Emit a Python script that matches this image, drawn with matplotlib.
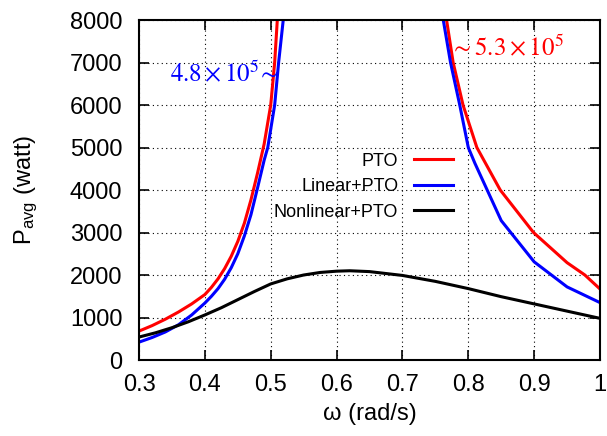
import numpy as np
import matplotlib
matplotlib.use("Agg")
import matplotlib.pyplot as plt

# omega (rad/s) and average power (watt); NaN marks the resonance gap (off scale)
w_pto = [0.30, 0.32, 0.34, 0.36, 0.38, 0.40, 0.41, 0.42, 0.43, 0.44, 0.45, 0.46, 0.47, 0.48, 0.49,
         0.50, 0.506, 0.510, 0.514,
         0.64,
         0.757, 0.767, 0.777, 0.792, 0.813, 0.8485, 0.899, 0.95, 0.977, 1.00]
p_pto = [680, 810, 960, 1130, 1320, 1540, 1710, 1910, 2150, 2440, 2790, 3220, 3770, 4400, 5080,
         6000, 7000, 8000, 9000,
         np.nan,
         9000, 8000, 7000, 6000, 5000, 4000, 3000, 2290, 2000, 1670]

w_lin = [0.30, 0.32, 0.34, 0.36, 0.38, 0.40, 0.41, 0.42, 0.43, 0.44, 0.45, 0.46, 0.47, 0.48, 0.49,
         0.4955, 0.506, 0.512, 0.519, 0.523,
         0.64,
         0.752, 0.762, 0.773, 0.787, 0.80, 0.81, 0.85, 0.90, 0.95, 1.00]
p_lin = [420, 530, 660, 830, 1060, 1340, 1500, 1680, 1900, 2170, 2500, 2920, 3420, 4050, 4700,
         5000, 6000, 7000, 8000, 9000,
         np.nan,
         9000, 8000, 7000, 6000, 5000, 4630, 3280, 2310, 1720, 1350]

w_nl = [0.30, 0.325, 0.35, 0.375, 0.40, 0.425, 0.45, 0.475, 0.50, 0.525, 0.55, 0.575, 0.60, 0.62,
        0.65, 0.70, 0.75, 0.80, 0.85, 0.90, 0.95, 1.00]
p_nl = [540, 640, 760, 900, 1060, 1230, 1420, 1610, 1790, 1910, 2000, 2060, 2090, 2100,
        2080, 1990, 1850, 1680, 1490, 1320, 1150, 980]

plt.rcParams['font.family'] = ['Liberation Sans', 'DejaVu Sans']
plt.rcParams['mathtext.fontset'] = 'stix'

fig = plt.figure(figsize=(6.07, 4.36), dpi=100)
ax = fig.add_axes([0.2290, 0.1743, 0.7595, 0.7798])

ax.plot(w_pto, p_pto, color='#ff0000', lw=2.2, label='PTO')
ax.plot(w_lin, p_lin, color='#0000ff', lw=2.2, label='Linear+PTO')
ax.plot(w_nl, p_nl, color='black', lw=2.2, label='Nonlinear+PTO')

ax.set_xlim(0.3, 1.0)
ax.set_ylim(0, 8000)
ax.set_xticks([0.3, 0.4, 0.5, 0.6, 0.7, 0.8, 0.9, 1.0])
ax.set_xticklabels(['0.3', '0.4', '0.5', '0.6', '0.7', '0.8', '0.9', '1'])
ax.set_yticks(range(0, 8001, 1000))

ax.grid(True, color='black', linestyle=(0, (1, 3)), linewidth=0.8)
ax.tick_params(direction='in', top=True, right=True, length=7, width=1.2,
               labelsize=17)
ax.tick_params(axis='x', pad=10)
ax.tick_params(axis='y', pad=12)
for s in ax.spines.values():
    s.set_linewidth(1.5)

ax.set_xlabel('ω (rad/s)', fontsize=17, labelpad=5)
ax.set_ylabel(r'P$_\mathregular{avg}$ (watt)', fontsize=17, labelpad=22)

ax.text(0.5115, 6548, r'$4.8\times10^5\!\sim$', color='#0000ff', fontsize=18,
        ha='right', va='baseline')
ax.text(0.772, 7176, r'$\sim5.3\times10^5$', color='#ff0000', fontsize=18,
        ha='left', va='baseline')

leg = ax.legend(loc='upper right', bbox_to_anchor=(0.682, 0.61), frameon=False,
                markerfirst=False, fontsize=13, handlelength=2.2,
                labelspacing=0.47, handletextpad=0.85, borderaxespad=0,
                borderpad=0)

fig.savefig('out.png', dpi=100)
